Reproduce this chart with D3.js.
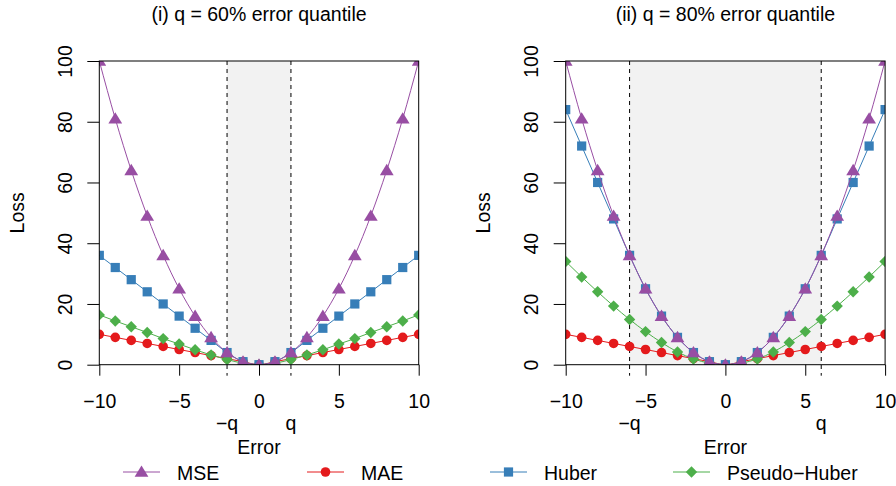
<!DOCTYPE html>
<html>
<head>
<meta charset="utf-8" />
<title>Loss functions</title>
<script src="https://d3js.org/d3.v7.min.js"></script>
<style>
    body { margin: 0; background: white; }
    svg { display: block; font-family: "Liberation Sans", Arial, sans-serif; }
    text { fill: black; font-size: 19.5px; }
</style>
</head>
<body>
<div id="chart"></div>
<script>
    // error values on the x axis
    var errors = [-10, -9, -8, -7, -6, -5, -4, -3, -2, -1, 0, 1, 2, 3, 4, 5, 6, 7, 8, 9, 10];

    // loss values
    var mse = [100, 81, 64, 49, 36, 25, 16, 9, 4, 1, 0, 1, 4, 9, 16, 25, 36, 49, 64, 81, 100];
    var mae = [10, 9, 8, 7, 6, 5, 4, 3, 2, 1, 0, 1, 2, 3, 4, 5, 6, 7, 8, 9, 10];
    var huber60 = [36, 32, 28, 24, 20, 16, 12, 8, 4, 1, 0, 1, 4, 8, 12, 16, 20, 24, 28, 32, 36];
    var pseudo60 = [16.4, 14.4, 12.5, 10.6, 8.6, 6.8, 4.9, 3.2, 1.7, 0.5, 0, 0.5, 1.7, 3.2, 4.9, 6.8, 8.6, 10.6, 12.5, 14.4, 16.4];
    var huber80 = [84, 72, 60, 48, 36, 25, 16, 9, 4, 1, 0, 1, 4, 9, 16, 25, 36, 48, 60, 72, 84];
    var pseudo80 = [34, 28.9, 24, 19.3, 14.9, 10.9, 7.3, 4.2, 1.9, 0.5, 0, 0.5, 1.9, 4.2, 7.3, 10.9, 14.9, 19.3, 24, 28.9, 34];

    var titles = ["(i) q = 60% error quantile", "(ii) q = 80% error quantile"];
    var quantiles = [2, 6];
    var xTicks = [-10, -5, 0, 5, 10];
    var yTicks = [0, 20, 40, 60, 80, 100];
    var seriesNames = ["MSE", "MAE", "Huber", "Pseudo\u2212Huber"];

    var colors = {MSE: "#984EA3", MAE: "#E41A1C", Huber: "#377EB8", "Pseudo\u2212Huber": "#4DAF4A"};
    var symbols = {MSE: "tri", MAE: "circle", Huber: "square", "Pseudo\u2212Huber": "diamond"};

    var width = 896, height = 486;
    var panelLeft = [99.3, 565.7];
    var plotW = 319.4, plotTop = 61, plotH = 303.7;

    var svg = d3.select("#chart").append("svg")
        .attr("width", width).attr("height", height);

    function marker(g, type, cx, cy, color) {
        if (type == "circle") {
            g.append("circle").attr("cx", cx).attr("cy", cy).attr("r", 4.8).attr("fill", color);
        } else if (type == "square") {
            g.append("rect").attr("x", cx - 4.6).attr("y", cy - 4.6)
                .attr("width", 9.2).attr("height", 9.2).attr("fill", color);
        } else if (type == "diamond") {
            g.append("path").attr("fill", color)
                .attr("d", "M" + cx + "," + (cy - 5.7) + "L" + (cx + 5.7) + "," + cy +
                    "L" + cx + "," + (cy + 5.7) + "L" + (cx - 5.7) + "," + cy + "Z");
        } else {
            g.append("path").attr("fill", color)
                .attr("d", "M" + cx + "," + (cy - 6.5) + "L" + (cx + 6.9) + "," + (cy + 4.8) +
                    "L" + (cx - 6.9) + "," + (cy + 4.8) + "Z");
        }
    }

    [0, 1].forEach(function (p) {
        var q = quantiles[p];
        var values = {
            MSE: mse, MAE: mae,
            Huber: p == 0 ? huber60 : huber80,
            "Pseudo\u2212Huber": p == 0 ? pseudo60 : pseudo80
        };

        var x = d3.scaleLinear().domain([-10, 10]).range([0, plotW]);
        var y = d3.scaleLinear().domain([0, 100]).range([plotH, 0]);

        var g = svg.append("g").attr("transform", "translate(" + panelLeft[p] + "," + plotTop + ")");

        g.append("clipPath").attr("id", "clip" + p)
            .append("rect").attr("width", plotW).attr("height", plotH);

        // shaded band between -q and q
        g.append("rect")
            .attr("x", x(-q)).attr("y", 0)
            .attr("width", x(q) - x(-q)).attr("height", plotH)
            .attr("fill", "#f2f2f2");

        // dashed quantile lines, running down into the tick area
        [-q, q].forEach(function (v) {
            g.append("line")
                .attr("x1", x(v)).attr("x2", x(v))
                .attr("y1", 0).attr("y2", plotH + 11)
                .attr("stroke", "black").attr("stroke-width", 1)
                .attr("stroke-dasharray", "4,4");
        });

        var plot = g.append("g").attr("clip-path", "url(#clip" + p + ")");
        var line = d3.line()
            .x(function (d) { return x(d[0]); })
            .y(function (d) { return y(d[1]); })
            .curve(d3.curveMonotoneX);

        ["MAE", "Pseudo\u2212Huber", "Huber", "MSE"].forEach(function (name) {
            var pts = errors.map(function (e, i) { return [e, values[name][i]]; });
            plot.append("path").datum(pts)
                .attr("d", line)
                .attr("fill", "none")
                .attr("stroke", colors[name])
                .attr("stroke-width", 1);
            var mg = plot.append("g");
            pts.forEach(function (d) {
                marker(mg, symbols[name], x(d[0]), y(d[1]), colors[name]);
            });
        });

        // box
        g.append("rect").attr("width", plotW).attr("height", plotH)
            .attr("fill", "none").attr("stroke", "black").attr("stroke-width", 1);

        // y axis
        var yAxis = g.append("g").call(d3.axisLeft(y).tickValues(yTicks).tickSize(12).tickSizeOuter(0));
        yAxis.select(".domain").remove();
        yAxis.selectAll("line").attr("stroke", "black");
        yAxis.selectAll("text")
            .attr("transform", "rotate(-90)")
            .attr("x", 0).attr("y", -27.3).attr("dy", 0)
            .attr("text-anchor", "middle")
            .style("font-size", "19.5px");
        yAxis.attr("font-size", null).attr("font-family", null);

        // x axis
        var xAxis = g.append("g").attr("transform", "translate(0," + plotH + ")")
            .call(d3.axisBottom(x).tickValues(xTicks).tickSize(11).tickSizeOuter(0));
        xAxis.select(".domain").remove();
        xAxis.selectAll("line").attr("stroke", "black");
        xAxis.selectAll("text")
            .attr("y", 43.8).attr("dy", 0)
            .style("font-size", "19.5px");
        xAxis.attr("font-size", null).attr("font-family", null);

        // -q and q labels
        g.append("text").attr("x", x(-q)).attr("y", plotH + 65.3)
            .attr("text-anchor", "middle").text("\u2212q");
        g.append("text").attr("x", x(q)).attr("y", plotH + 65.3)
            .attr("text-anchor", "middle").text("q");

        g.append("text").attr("x", plotW / 2).attr("y", plotH + 89.3)
            .attr("text-anchor", "middle").text("Error");

        g.append("text")
            .attr("transform", "translate(" + (p == 0 ? -75.3 : -75.7) + "," + plotH / 2 + ") rotate(-90)")
            .attr("text-anchor", "middle").text("Loss");

        g.append("text").attr("x", plotW / 2).attr("y", 21 - plotTop)
            .attr("text-anchor", "middle").text(titles[p]);
    });

    // legend along the bottom
    var legendX = [123, 307, 490, 673];
    var legendY = 472;
    seriesNames.forEach(function (name, i) {
        var lg = svg.append("g");
        lg.append("line")
            .attr("x1", legendX[i]).attr("x2", legendX[i] + 37)
            .attr("y1", legendY).attr("y2", legendY)
            .attr("stroke", colors[name]).attr("stroke-width", 1);
        marker(lg, symbols[name], legendX[i] + 18.5, legendY, colors[name]);
        lg.append("text").attr("x", legendX[i] + 54).attr("y", 480).text(name);
    });
</script>
</body>
</html>
